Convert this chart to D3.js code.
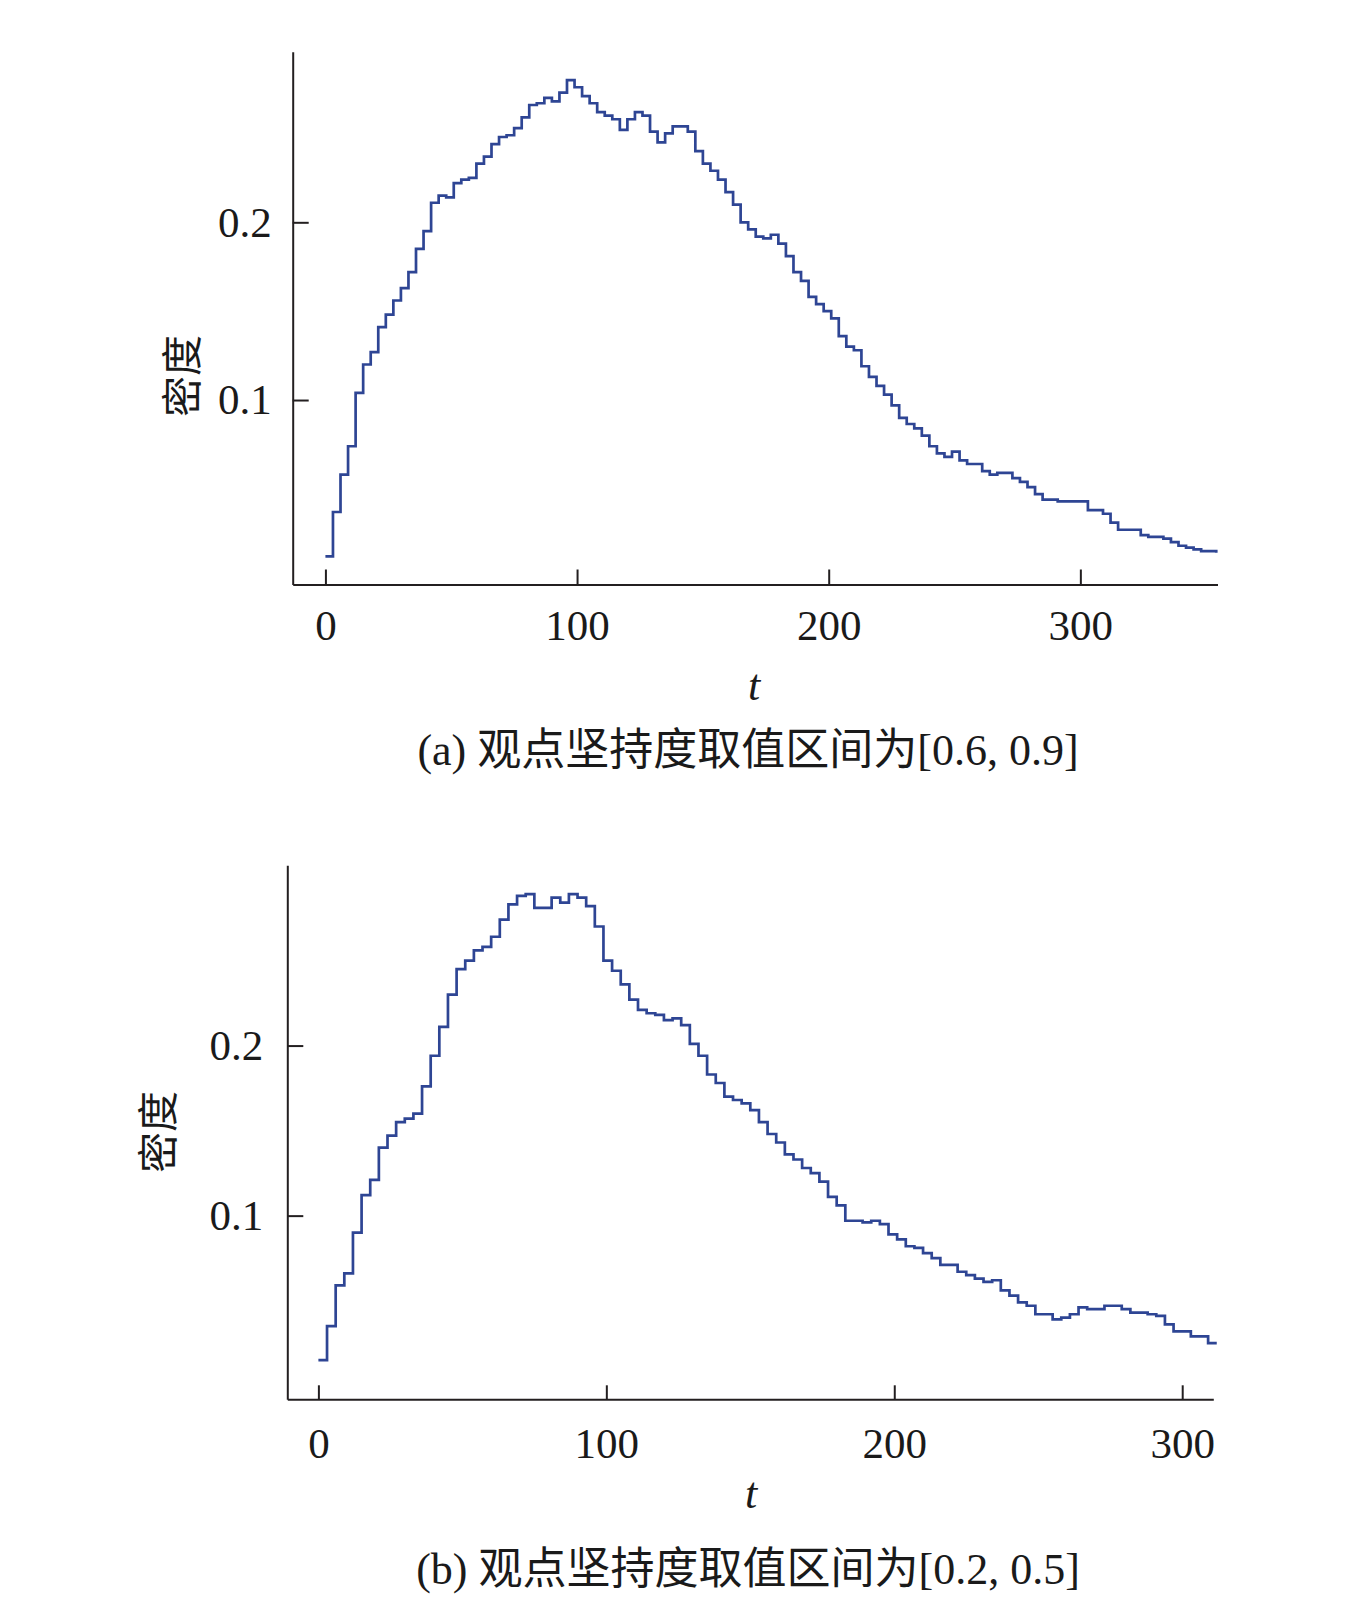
<!DOCTYPE html>
<html>
<head>
<meta charset="utf-8">
<script src="https://cdn.jsdelivr.net/npm/d3@7"></script>
<style>
  body { margin: 0; background: #fff; }
  svg { display: block; }
</style>
</head>
<body>
<div class="chart"></div>
<script>
var width = 1346, height = 1600;

var tA = d3.range(0, 355, 3);
var densityA = [
    0.012, 0.037, 0.058, 0.074, 0.104, 0.120, 0.127, 0.141, 0.148, 0.156,
    0.163, 0.172, 0.185, 0.195, 0.211, 0.215, 0.214, 0.222, 0.224, 0.225,
    0.233, 0.237, 0.244, 0.248, 0.249, 0.253, 0.259, 0.266, 0.267, 0.270,
    0.268, 0.273, 0.280, 0.276, 0.271, 0.267, 0.262, 0.260, 0.258, 0.252,
    0.258, 0.262, 0.260, 0.251, 0.245, 0.250, 0.254, 0.254, 0.251, 0.240,
    0.233, 0.229, 0.224, 0.217, 0.210, 0.200, 0.196, 0.192, 0.191, 0.193,
    0.188, 0.181, 0.172, 0.167, 0.158, 0.154, 0.150, 0.146, 0.136, 0.130,
    0.128, 0.119, 0.113, 0.108, 0.103, 0.097, 0.090, 0.0865, 0.084, 0.080,
    0.074, 0.070, 0.068, 0.071, 0.066, 0.064, 0.064, 0.060, 0.058, 0.059,
    0.059, 0.056, 0.054, 0.051, 0.047, 0.044, 0.044, 0.043, 0.043, 0.043,
    0.043, 0.038, 0.038, 0.036, 0.031, 0.027, 0.027, 0.027, 0.024, 0.023,
    0.023, 0.022, 0.020, 0.018, 0.017, 0.016, 0.015, 0.015, 0.014
];

var tB = d3.range(0, 313, 3);
var densityB = [
    0.015, 0.035, 0.059, 0.066, 0.090, 0.112, 0.121, 0.140, 0.147, 0.155,
    0.157, 0.160, 0.176, 0.194, 0.211, 0.230, 0.245, 0.250, 0.256, 0.258,
    0.264, 0.274, 0.283, 0.288, 0.289, 0.281, 0.281, 0.287, 0.284, 0.289,
    0.287, 0.282, 0.270, 0.250, 0.244, 0.236, 0.227, 0.221, 0.219, 0.218,
    0.215, 0.216, 0.212, 0.201, 0.194, 0.183, 0.178, 0.170, 0.168, 0.166,
    0.162, 0.155, 0.148, 0.143, 0.136, 0.133, 0.128, 0.125, 0.120, 0.111,
    0.106, 0.097, 0.097, 0.096, 0.097, 0.095, 0.089, 0.086, 0.082, 0.081,
    0.078, 0.075, 0.071, 0.071, 0.067, 0.065, 0.063, 0.061, 0.062, 0.056,
    0.053, 0.049, 0.047, 0.042, 0.042, 0.039, 0.040, 0.042, 0.046, 0.045,
    0.045, 0.047, 0.047, 0.045, 0.043, 0.043, 0.042, 0.041, 0.036, 0.032,
    0.032, 0.029, 0.029, 0.025, 0.025
];

var xTicks = [0, 100, 200, 300];
var yTicks = [0.1, 0.2];
var yLabel = "密度";
var xLabel = "t";
var captionA = "(a) 观点坚持度取值区间为[0.6, 0.9]";
var captionB = "(b) 观点坚持度取值区间为[0.2, 0.5]";

var lineColor = "#2e4594";
var axisColor = "#231f20";
var serif = "'Liberation Serif', 'Times New Roman', serif";

var svg = d3.select(".chart").append("svg")
    .attr("width", width)
    .attr("height", height)
    .attr("viewBox", [0, 0, width, height]);

svg.append("rect")
    .attr("width", width)
    .attr("height", height)
    .attr("fill", "#fff");

function drawPanel(p) {
    var x = d3.scaleLinear().domain(p.xDomain).range([p.left, p.right]);
    var y = d3.scaleLinear().domain(p.yDomain).range([p.bottom, p.top]);
    var g = svg.append("g");

    // x axis, ticks pointing inward
    var xAxis = g.append("g")
        .attr("transform", "translate(0," + p.bottom + ")")
        .call(d3.axisBottom(x)
            .tickValues(xTicks)
            .tickFormat(d3.format("d"))
            .tickSizeInner(-p.xTick)
            .tickSizeOuter(0)
            .tickPadding(p.xPad));

    // y axis
    var yAxis = g.append("g")
        .attr("transform", "translate(" + p.left + ",0)")
        .call(d3.axisLeft(y)
            .tickValues(yTicks)
            .tickFormat(d3.format(".1f"))
            .tickSizeInner(-16)
            .tickSizeOuter(0)
            .tickPadding(p.yPad));

    [xAxis, yAxis].forEach(function(a) {
        a.attr("color", axisColor)
            .attr("font-family", serif)
            .attr("font-size", 43);
        a.selectAll("path, line").attr("stroke-width", 2);
        a.selectAll("text").attr("fill", "#1a1a1a");
    });

    // curve
    var line = d3.line()
        .curve(d3.curveStepAfter)
        .x(function(d) { return x(d[0]); })
        .y(function(d) { return y(d[1]); });

    g.append("path")
        .datum(d3.zip(p.t, p.values))
        .attr("d", line)
        .attr("fill", "none")
        .attr("stroke", lineColor)
        .attr("stroke-width", 2.7);

    // labels
    g.append("text")
        .attr("transform", "translate(" + p.yLabelX + "," + p.yLabelY + ") rotate(-90)")
        .attr("text-anchor", "middle")
        .attr("dominant-baseline", "central")
        .attr("font-family", "'Noto Sans CJK SC', sans-serif")
        .attr("font-size", 41)
        .attr("fill", "#1a1a1a")
        .text(yLabel);

    g.append("text")
        .attr("x", p.xLabelX)
        .attr("y", p.xLabelY)
        .attr("text-anchor", "middle")
        .attr("font-family", serif)
        .attr("font-style", "italic")
        .attr("font-size", 44)
        .attr("fill", "#1a1a1a")
        .text(xLabel);

    g.append("text")
        .attr("x", 748)
        .attr("y", p.captionY)
        .attr("text-anchor", "middle")
        .attr("font-family", serif + ", 'Noto Sans CJK SC'")
        .attr("font-size", 44)
        .attr("fill", "#1a1a1a")
        .text(p.caption);
}

drawPanel({
    t: tA, values: densityA, caption: captionA,
    xDomain: [-13, 354.5], yDomain: [-0.0038, 0.296],
    left: 292.7, right: 1217.5, top: 51.7, bottom: 584.5,
    xTick: 15, xPad: 25, yPad: 21,
    yLabelX: 179, yLabelY: 376,
    xLabelX: 754, xLabelY: 700, captionY: 765
});

drawPanel({
    t: tB, values: densityB, caption: captionB,
    xDomain: [-10.8, 310.8], yDomain: [-0.008, 0.306],
    left: 287.3, right: 1213.3, top: 865.3, bottom: 1399.3,
    xTick: 14, xPad: 28, yPad: 24,
    yLabelX: 155, yLabelY: 1132,
    xLabelX: 751, xLabelY: 1508, captionY: 1584
});
</script>
</body>
</html>
